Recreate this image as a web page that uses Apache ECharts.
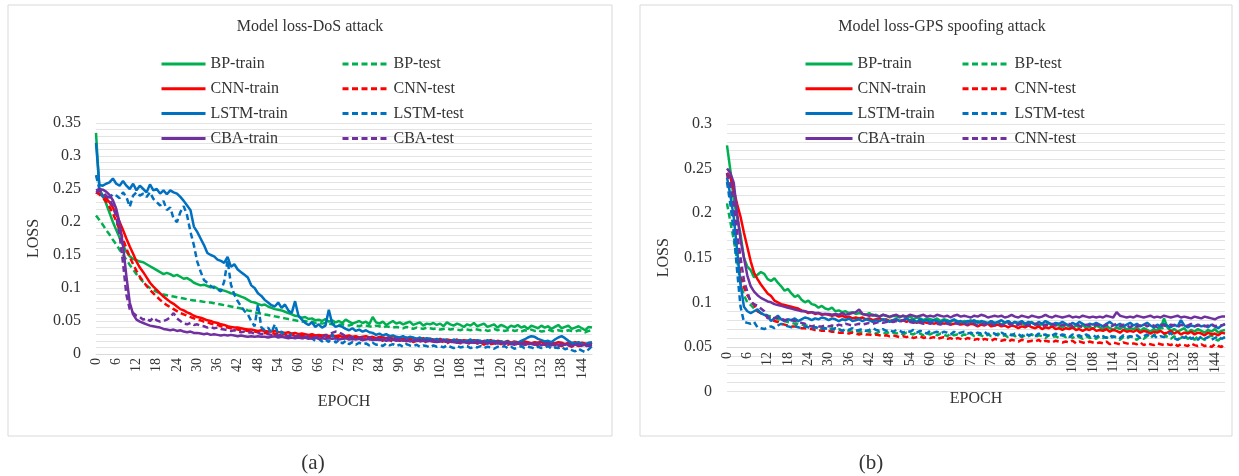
<!DOCTYPE html>
<html>
<head>
<meta charset="utf-8">
<script src="https://cdn.jsdelivr.net/npm/echarts@6/dist/echarts.min.js"></script>
<style>
  html, body { margin: 0; padding: 0; background: #ffffff; }
  #chart { width: 1239px; height: 476px; }
</style>
</head>
<body>
<div id="chart"></div>
<script>
// Epoch categories 0..147 shared by both panels
const epochs = [];
for (let i = 0; i < 148; i++) epochs.push(String(i));

// ---- (a) Model loss - DoS attack ----
const dosBpTrain = [
  .335,.250,.240,.228,.214,.200,.188,.176,.165,.155,
  .148,.144,.142,.140,.139,.136,.133,.130,.127,.124,
  .121,.123,.121,.118,.120,.117,.114,.115,.112,.108,
  .106,.104,.105,.103,.101,.102,.099,.097,.096,.094,
  .092,.091,.089,.087,.085,.082,.079,.078,.076,.074,
  .075,.072,.070,.068,.067,.066,.064,.062,.060,.058,
  .057,.055,.056,.053,.054,.051,.052,.050,.053,.049,
  .051,.048,.050,.047,.052,.049,.046,.048,.050,.047,
  .049,.045,.056,.048,.046,.049,.044,.047,.050,.046,
  .048,.045,.047,.049,.044,.046,.048,.043,.046,.045,
  .047,.044,.046,.042,.048,.045,.043,.046,.044,.041,
  .045,.043,.047,.042,.044,.046,.041,.043,.045,.040,
  .044,.042,.039,.043,.041,.044,.040,.042,.038,.043,
  .041,.039,.043,.040,.042,.038,.041,.044,.039,.041,
  .043,.038,.040,.042,.039,.036,.041,.040
];
const dosBpTest = [
  .210,.203,.196,.188,.181,.173,.166,.158,.150,.143,
  .135,.128,.121,.115,.109,.104,.100,.097,.094,.092,
  .090,.089,.088,.087,.086,.085,.084,.083,.082,.081,
  .081,.080,.079,.078,.078,.077,.076,.075,.074,.073,
  .072,.071,.070,.069,.068,.066,.065,.063,.062,.061,
  .060,.059,.058,.057,.056,.055,.054,.053,.052,.051,
  .050,.049,.050,.048,.049,.047,.048,.046,.047,.046,
  .045,.046,.044,.045,.044,.043,.045,.043,.042,.044,
  .043,.042,.041,.043,.042,.040,.042,.041,.040,.041,
  .040,.039,.041,.040,.038,.040,.039,.038,.040,.039,
  .038,.039,.037,.038,.039,.037,.038,.037,.036,.038,
  .037,.036,.038,.037,.036,.037,.035,.036,.038,.036,
  .037,.035,.036,.037,.035,.036,.034,.036,.035,.037,
  .035,.036,.034,.035,.037,.035,.034,.036,.035,.034,
  .036,.035,.034,.036,.035,.033,.035,.036
];
const dosCnnTrain = [
  .245,.243,.240,.236,.230,.222,.212,.200,.188,.175,
  .163,.152,.140,.131,.124,.116,.108,.102,.097,.092,
  .087,.083,.079,.076,.072,.068,.066,.063,.061,.058,
  .056,.055,.053,.051,.050,.048,.047,.045,.044,.042,
  .041,.040,.040,.039,.038,.037,.037,.036,.035,.036,
  .035,.034,.034,.035,.033,.033,.032,.033,.031,.032,
  .030,.031,.030,.029,.030,.028,.029,.028,.029,.027,
  .028,.027,.028,.026,.027,.028,.026,.027,.025,.026,
  .027,.025,.026,.024,.026,.025,.024,.026,.023,.025,
  .024,.023,.025,.022,.024,.023,.022,.024,.021,.023,
  .022,.021,.023,.020,.022,.021,.020,.022,.019,.021,
  .020,.019,.021,.020,.018,.020,.019,.021,.018,.020,
  .019,.018,.020,.017,.019,.018,.017,.019,.018,.016,
  .018,.017,.019,.016,.018,.017,.016,.018,.017,.015,
  .017,.016,.018,.015,.017,.016,.015,.017
];
const dosCnnTest = [
  .245,.242,.237,.231,.223,.213,.201,.188,.174,.160,
  .147,.136,.126,.117,.110,.103,.097,.092,.087,.082,
  .078,.074,.071,.068,.065,.062,.060,.058,.056,.054,
  .052,.051,.049,.048,.046,.045,.044,.042,.041,.040,
  .039,.038,.037,.036,.036,.035,.034,.034,.033,.032,
  .032,.031,.033,.030,.031,.029,.030,.028,.030,.027,
  .029,.027,.028,.026,.028,.025,.027,.026,.024,.027,
  .025,.024,.026,.023,.025,.024,.022,.025,.023,.021,
  .024,.022,.023,.021,.023,.020,.022,.021,.019,.022,
  .020,.021,.019,.022,.018,.020,.019,.021,.017,.020,
  .019,.017,.020,.018,.016,.019,.017,.018,.016,.019,
  .017,.015,.018,.016,.017,.014,.017,.015,.016,.018,
  .015,.017,.014,.016,.013,.016,.015,.013,.016,.014,
  .015,.013,.016,.014,.012,.015,.013,.014,.012,.015,
  .013,.011,.014,.012,.013,.011,.014,.012
];
const dosLstmTrain = [
  .320,.256,.255,.258,.260,.266,.258,.255,.262,.255,
  .250,.258,.248,.255,.250,.245,.257,.248,.250,.243,
  .248,.242,.248,.245,.243,.238,.232,.225,.218,.193,
  .185,.175,.165,.153,.150,.148,.143,.141,.138,.147,
  .132,.136,.128,.124,.120,.116,.104,.100,.092,.088,
  .082,.078,.074,.072,.078,.070,.075,.066,.062,.080,
  .058,.052,.047,.044,.048,.041,.045,.040,.043,.067,
  .046,.041,.043,.041,.038,.036,.039,.035,.037,.034,
  .036,.033,.032,.029,.031,.028,.030,.027,.028,.026,
  .025,.027,.024,.026,.025,.023,.025,.022,.024,.023,
  .021,.023,.020,.022,.021,.019,.022,.020,.021,.019,
  .020,.022,.019,.021,.020,.018,.021,.019,.020,.018,
  .019,.017,.019,.016,.018,.017,.020,.022,.025,.027,
  .026,.023,.021,.019,.020,.018,.022,.025,.027,.024,
  .020,.017,.016,.018,.015,.014,.017,.018
];
const dosLstmTest = [
  .271,.250,.238,.240,.237,.242,.240,.236,.245,.238,
  .223,.240,.245,.240,.243,.238,.245,.235,.230,.225,
  .232,.218,.222,.205,.200,.215,.224,.210,.185,.165,
  .140,.125,.112,.108,.103,.100,.098,.095,.110,.142,
  .105,.090,.080,.072,.065,.060,.050,.042,.075,.040,
  .036,.040,.032,.045,.030,.034,.028,.027,.030,.025,
  .028,.023,.026,.022,.024,.020,.023,.019,.022,.018,
  .030,.017,.021,.016,.020,.015,.018,.014,.017,.015,
  .016,.013,.017,.014,.015,.012,.016,.013,.015,.012,
  .014,.011,.015,.013,.012,.014,.011,.013,.012,.010,
  .013,.011,.012,.010,.013,.011,.009,.012,.010,.011,
  .012,.009,.011,.010,.012,.009,.011,.010,.008,.011,
  .010,.012,.009,.011,.008,.010,.012,.009,.011,.010,
  .008,.011,.009,.010,.012,.008,.010,.009,.011,.007,
  .009,.006,.004,.008,.005,.003,.007,.012
];
const dosCbaTrain = [
  .248,.250,.249,.246,.241,.233,.220,.198,.165,.118,
  .078,.060,.052,.049,.047,.045,.043,.042,.041,.040,
  .038,.037,.036,.037,.035,.036,.034,.033,.034,.032,
  .032,.031,.030,.031,.029,.030,.029,.028,.029,.028,
  .029,.028,.027,.028,.027,.026,.027,.026,.027,.026,
  .026,.025,.026,.027,.025,.026,.025,.024,.025,.024,
  .025,.024,.025,.023,.024,.025,.023,.024,.023,.024,
  .023,.024,.022,.023,.024,.022,.023,.022,.023,.021,
  .022,.023,.021,.022,.021,.022,.020,.021,.022,.020,
  .021,.020,.021,.019,.020,.021,.019,.020,.019,.020,
  .019,.018,.019,.020,.018,.019,.018,.017,.019,.018,
  .017,.018,.017,.019,.017,.018,.016,.017,.018,.016,
  .017,.016,.017,.015,.016,.017,.015,.016,.015,.016,
  .015,.016,.014,.015,.016,.014,.015,.014,.015,.014,
  .015,.013,.014,.015,.013,.014,.013,.014
];
const dosCbaTest = [
  .245,.247,.245,.240,.234,.224,.208,.180,.138,.090,
  .068,.062,.058,.056,.052,.054,.050,.055,.051,.049,
  .050,.052,.056,.062,.054,.050,.046,.045,.047,.044,
  .045,.043,.042,.040,.041,.039,.040,.038,.037,.036,
  .035,.036,.034,.033,.034,.032,.033,.031,.032,.030,
  .031,.030,.029,.030,.028,.029,.028,.027,.028,.027,
  .027,.028,.026,.027,.026,.025,.027,.026,.028,.030,
  .032,.034,.033,.030,.027,.026,.025,.026,.024,.025,
  .024,.025,.023,.024,.023,.022,.024,.023,.022,.023,
  .022,.023,.021,.022,.021,.020,.022,.021,.020,.021,
  .020,.019,.021,.020,.018,.019,.018,.020,.017,.018,
  .019,.017,.018,.016,.018,.017,.016,.018,.015,.017,
  .016,.015,.017,.016,.014,.016,.015,.014,.016,.015,
  .014,.015,.013,.015,.014,.013,.015,.012,.014,.013,
  .014,.012,.013,.014,.012,.013,.012,.013
];

// ---- (b) Model loss - GPS spoofing attack ----
const gpsBpTrain = [
  .276,.248,.215,.195,.176,.150,.140,.136,.128,.131,
  .134,.132,.126,.124,.127,.122,.118,.113,.115,.110,
  .106,.108,.103,.100,.102,.098,.097,.094,.096,.093,
  .092,.094,.090,.091,.089,.090,.088,.089,.087,.088,
  .087,.086,.088,.085,.086,.084,.086,.085,.083,.085,
  .084,.083,.085,.082,.084,.081,.083,.082,.080,.082,
  .081,.080,.082,.079,.081,.080,.078,.080,.079,.077,
  .079,.078,.080,.077,.079,.076,.078,.077,.079,.076,
  .078,.075,.077,.079,.076,.078,.075,.077,.074,.076,
  .078,.075,.073,.076,.074,.077,.073,.075,.074,.072,
  .075,.073,.071,.074,.072,.075,.071,.073,.070,.074,
  .072,.070,.073,.071,.069,.072,.070,.073,.069,.071,
  .070,.072,.068,.071,.069,.067,.070,.068,.071,.082,
  .072,.068,.070,.067,.069,.071,.066,.069,.067,.070,
  .068,.066,.069,.067,.070,.066,.068,.069
];
const gpsBpTest = [
  .211,.190,.170,.147,.120,.108,.100,.097,.093,.090,
  .088,.087,.085,.084,.083,.081,.080,.079,.078,.077,
  .076,.076,.075,.074,.074,.073,.072,.072,.071,.071,
  .070,.071,.069,.070,.068,.069,.068,.067,.068,.067,
  .066,.068,.067,.066,.065,.067,.066,.065,.067,.066,
  .065,.066,.064,.066,.065,.064,.066,.065,.063,.065,
  .064,.066,.063,.065,.064,.062,.065,.063,.064,.062,
  .064,.063,.065,.062,.064,.063,.061,.064,.062,.063,
  .065,.062,.063,.061,.064,.062,.063,.061,.063,.062,
  .064,.061,.063,.062,.060,.063,.061,.062,.060,.063,
  .061,.063,.060,.062,.061,.059,.062,.060,.061,.059,
  .062,.060,.061,.059,.062,.060,.058,.061,.059,.062,
  .060,.058,.061,.059,.062,.060,.063,.067,.077,.065,
  .061,.059,.062,.058,.060,.063,.059,.061,.058,.062,
  .060,.058,.061,.063,.059,.057,.061,.060
];
const gpsCnnTrain = [
  .245,.240,.226,.210,.196,.178,.162,.146,.133,.126,
  .120,.115,.110,.107,.102,.100,.098,.097,.096,.095,
  .094,.093,.091,.090,.088,.089,.087,.088,.086,.087,
  .086,.085,.086,.084,.085,.083,.084,.082,.083,.082,
  .083,.081,.082,.080,.081,.082,.080,.081,.079,.080,
  .081,.079,.080,.078,.080,.079,.077,.079,.078,.077,
  .078,.076,.077,.078,.076,.077,.075,.076,.077,.075,
  .076,.074,.076,.075,.073,.075,.074,.076,.073,.074,
  .075,.073,.074,.072,.074,.073,.071,.073,.072,.074,
  .072,.071,.073,.070,.072,.071,.073,.070,.071,.069,
  .071,.070,.072,.069,.070,.068,.070,.069,.071,.068,
  .069,.068,.070,.067,.069,.068,.066,.069,.067,.068,
  .067,.069,.066,.068,.067,.065,.067,.066,.068,.065,
  .066,.068,.065,.067,.064,.066,.065,.067,.064,.066,
  .065,.063,.066,.064,.065,.063,.066,.065
];
const gpsCnnTest = [
  .245,.220,.193,.160,.130,.117,.108,.102,.097,.090,
  .088,.086,.084,.081,.079,.078,.076,.075,.074,.073,
  .073,.072,.071,.071,.070,.070,.069,.069,.068,.068,
  .068,.067,.067,.066,.066,.066,.065,.066,.065,.064,
  .065,.064,.064,.063,.064,.063,.062,.063,.062,.063,
  .062,.061,.062,.061,.062,.060,.061,.062,.060,.061,
  .060,.061,.059,.060,.061,.059,.060,.058,.060,.059,
  .058,.060,.059,.058,.059,.057,.059,.058,.057,.059,
  .058,.057,.058,.056,.058,.057,.056,.058,.057,.056,
  .057,.056,.058,.055,.057,.056,.055,.057,.056,.055,
  .056,.055,.057,.054,.056,.055,.054,.056,.055,.054,
  .055,.054,.056,.053,.055,.054,.053,.055,.054,.053,
  .054,.053,.055,.052,.054,.053,.052,.054,.053,.052,
  .053,.052,.054,.051,.053,.052,.051,.054,.052,.051,
  .053,.051,.052,.050,.053,.051,.050,.055
];
const gpsLstmTrain = [
  .240,.220,.195,.158,.120,.095,.090,.088,.090,.092,
  .088,.086,.085,.079,.082,.085,.081,.079,.081,.080,
  .082,.079,.081,.083,.082,.080,.082,.081,.083,.082,
  .080,.082,.081,.079,.081,.080,.082,.079,.080,.081,
  .079,.081,.080,.078,.080,.079,.081,.080,.078,.080,
  .081,.079,.080,.082,.079,.080,.078,.081,.079,.080,
  .078,.080,.079,.077,.080,.078,.079,.081,.078,.079,
  .077,.079,.078,.080,.077,.079,.078,.076,.079,.077,
  .078,.080,.077,.079,.076,.078,.077,.079,.076,.078,
  .077,.075,.078,.076,.079,.077,.075,.077,.076,.078,
  .076,.074,.077,.075,.078,.076,.074,.076,.075,.077,
  .075,.073,.076,.078,.075,.074,.076,.073,.075,.077,
  .074,.076,.073,.075,.077,.074,.072,.075,.073,.076,
  .074,.072,.075,.073,.080,.074,.072,.074,.073,.075,
  .073,.074,.072,.075,.073,.071,.074,.075
];
const gpsLstmTest = [
  .235,.210,.178,.135,.095,.078,.077,.076,.078,.072,
  .071,.070,.072,.073,.071,.074,.076,.074,.073,.072,
  .074,.072,.071,.073,.072,.070,.072,.071,.070,.071,
  .070,.069,.071,.070,.068,.070,.069,.071,.068,.069,
  .070,.068,.069,.071,.069,.068,.070,.068,.069,.067,
  .069,.068,.066,.068,.067,.069,.066,.068,.067,.065,
  .068,.066,.067,.065,.067,.066,.064,.067,.065,.066,
  .067,.065,.066,.064,.066,.065,.067,.064,.066,.065,
  .063,.066,.064,.065,.063,.065,.064,.062,.065,.063,
  .064,.062,.065,.063,.064,.062,.063,.065,.062,.064,
  .063,.061,.064,.062,.063,.061,.064,.062,.063,.061,
  .063,.062,.060,.063,.061,.062,.060,.063,.061,.062,
  .061,.063,.060,.062,.064,.061,.063,.060,.062,.061,
  .063,.066,.060,.058,.062,.060,.063,.059,.061,.058,
  .062,.059,.061,.058,.060,.062,.059,.061
];
const gpsCbaTrain = [
  .250,.245,.234,.200,.170,.150,.130,.118,.112,.108,
  .105,.103,.101,.100,.098,.097,.096,.095,.094,.093,
  .092,.091,.090,.090,.089,.089,.088,.088,.087,.087,
  .087,.086,.087,.086,.088,.086,.087,.088,.089,.092,
  .087,.086,.085,.086,.085,.084,.086,.085,.084,.085,
  .086,.084,.085,.084,.086,.085,.084,.085,.086,.084,
  .085,.084,.086,.085,.084,.085,.083,.085,.086,.084,
  .085,.084,.083,.085,.084,.086,.085,.083,.084,.085,
  .084,.085,.083,.084,.086,.084,.083,.085,.084,.083,
  .085,.084,.083,.084,.086,.084,.083,.085,.084,.083,
  .084,.085,.083,.084,.083,.085,.084,.083,.084,.083,
  .084,.083,.085,.084,.083,.089,.085,.084,.083,.084,
  .083,.085,.084,.083,.084,.085,.083,.084,.083,.085,
  .084,.083,.084,.085,.083,.084,.083,.082,.084,.083,
  .082,.084,.083,.082,.081,.083,.084,.084
];
const gpsCbaTest = [
  .245,.235,.210,.178,.150,.125,.112,.100,.098,.096,
  .093,.090,.082,.083,.082,.083,.082,.080,.081,.080,
  .079,.078,.077,.076,.074,.073,.074,.073,.073,.074,
  .073,.074,.073,.075,.074,.076,.075,.074,.075,.076,
  .075,.076,.077,.076,.077,.078,.077,.078,.079,.078,
  .079,.078,.080,.079,.078,.077,.078,.077,.076,.077,
  .076,.077,.076,.075,.077,.076,.075,.077,.076,.075,
  .076,.075,.077,.076,.074,.076,.075,.077,.076,.074,
  .076,.075,.074,.076,.075,.073,.075,.076,.074,.075,
  .074,.076,.075,.073,.075,.074,.076,.074,.073,.075,
  .074,.076,.073,.075,.074,.072,.075,.074,.073,.075,
  .074,.073,.075,.072,.074,.076,.073,.075,.074,.072,
  .075,.073,.074,.076,.073,.075,.074,.072,.075,.074,
  .073,.075,.074,.072,.075,.073,.074,.076,.073,.074,
  .075,.073,.074,.076,.073,.075,.074,.076
];

const trainNames = ['BP-train', 'CNN-train', 'LSTM-train', 'CBA-train'];
const testNames = ['BP-test', 'CNN-test', 'LSTM-test', 'CBA-test'];
const modelColors = ['#00b050', '#ff0000', '#0070c0', '#7030a0'];

const dosTrain = [dosBpTrain, dosCnnTrain, dosLstmTrain, dosCbaTrain];
const dosTest = [dosBpTest, dosCnnTest, dosLstmTest, dosCbaTest];
const gpsTrain = [gpsBpTrain, gpsCnnTrain, gpsLstmTrain, gpsCbaTrain];
const gpsTest = [gpsBpTest, gpsCnnTest, gpsLstmTest, gpsCbaTest];

const FONT = 'Liberation Serif';
const TEXT = '#333333';
const GRID_LINE = '#e3e3e3';
const DASH = [6, 3.5];

function buildSeries(gridIndex, trainSets, testSets) {
  const out = [];
  for (let m = 0; m < 4; m++) {
    [[trainNames[m], trainSets[m], 'solid'], [testNames[m], testSets[m], DASH]].forEach(([name, data, type]) => {
      out.push({
        type: 'line',
        name: name,
        xAxisIndex: gridIndex,
        yAxisIndex: gridIndex,
        data: data,
        symbol: 'none',
        showSymbol: false,
        silent: true,
        animation: false,
        lineStyle: { color: modelColors[m], width: 2.5, type: type },
        itemStyle: { color: modelColors[m] }
      });
    });
  }
  return out;
}

// Legend keys are drawn as plain line segments (the marker dot is hidden)
function legendBlock(left, width, names, formatter) {
  const l = {
    orient: 'vertical',
    left: left,
    top: 56,
    padding: 0,
    itemWidth: width,
    itemHeight: 14,
    itemGap: 8.8,
    selectedMode: false,
    data: names,
    itemStyle: { opacity: 0 },
    lineStyle: { width: 3 },
    textStyle: { fontFamily: FONT, fontSize: 16, color: TEXT, lineHeight: 16 }
  };
  if (formatter) l.formatter = formatter;
  return l;
}

function yAxisFor(gridIndex, max, gap) {
  return {
    type: 'value',
    gridIndex: gridIndex,
    min: 0,
    max: max,
    interval: 0.05,
    name: 'LOSS',
    nameLocation: 'middle',
    nameRotate: 90,
    nameGap: gap,
    nameTextStyle: { fontFamily: FONT, fontSize: 16, color: TEXT },
    axisLine: { show: false },
    axisTick: { show: false },
    axisLabel: { fontFamily: FONT, fontSize: 16, color: TEXT, margin: 15 },
    splitLine: { show: true, lineStyle: { color: GRID_LINE, width: 1 } },
    minorTick: { show: false, splitNumber: 5 },
    minorSplitLine: { show: true, lineStyle: { color: GRID_LINE, width: 1 } }
  };
}

function xAxisFor(gridIndex, offset, nameGap, labelMargin) {
  return {
    type: 'category',
    gridIndex: gridIndex,
    data: epochs,
    boundaryGap: false,
    offset: offset,
    name: 'EPOCH',
    nameLocation: 'middle',
    nameGap: nameGap,
    nameTextStyle: { fontFamily: FONT, fontSize: 16, color: TEXT },
    axisLine: { show: true, onZero: false, lineStyle: { color: '#d9d9d9', width: 1 } },
    axisTick: { show: false },
    axisLabel: {
      interval: 5,
      rotate: 90,
      margin: labelMargin,
      fontFamily: FONT,
      fontSize: 14,
      color: TEXT
    },
    splitLine: { show: false }
  };
}

const chart = echarts.init(document.getElementById('chart'), null, { renderer: 'canvas' });

chart.setOption({
  animation: false,
  backgroundColor: '#ffffff',
  grid: [
    { left: 96, top: 123, width: 496, height: 231 },
    { left: 727, top: 124, width: 498, height: 267.5 }
  ],
  xAxis: [
    xAxisFor(0, 0, 40, 4),
    xAxisFor(1, -44.6, 44, 5)
  ],
  yAxis: [
    yAxisFor(0, 0.35, 54),
    yAxisFor(1, 0.3, 55)
  ],
  legend: [
    legendBlock(160, 44, trainNames),
    legendBlock(341, 46, testNames),
    legendBlock(804, 47, trainNames),
    legendBlock(961, 47, testNames, n => (n === 'CBA-test' ? 'CNN-test' : n))
  ],
  graphic: [
    { type: 'rect', silent: true, shape: { x: 8, y: 5, width: 604, height: 431 },
      style: { fill: 'none', stroke: '#d9d9d9', lineWidth: 1 } },
    { type: 'rect', silent: true, shape: { x: 640, y: 5, width: 592, height: 431 },
      style: { fill: 'none', stroke: '#d9d9d9', lineWidth: 1 } },
    { type: 'text', silent: true, x: 310, y: 27,
      style: { text: 'Model loss-DoS attack', fontFamily: FONT, fontSize: 16, fill: TEXT, align: 'center', verticalAlign: 'middle' } },
    { type: 'text', silent: true, x: 942, y: 27,
      style: { text: 'Model loss-GPS spoofing attack', fontFamily: FONT, fontSize: 16, fill: TEXT, align: 'center', verticalAlign: 'middle' } },
    { type: 'text', silent: true, x: 313, y: 463,
      style: { text: '(a)', fontFamily: FONT, fontSize: 21, fill: TEXT, align: 'center', verticalAlign: 'middle' } },
    { type: 'text', silent: true, x: 871, y: 463,
      style: { text: '(b)', fontFamily: FONT, fontSize: 21, fill: TEXT, align: 'center', verticalAlign: 'middle' } }
  ],
  series: buildSeries(0, dosTrain, dosTest).concat(buildSeries(1, gpsTrain, gpsTest))
});
</script>
</body>
</html>
